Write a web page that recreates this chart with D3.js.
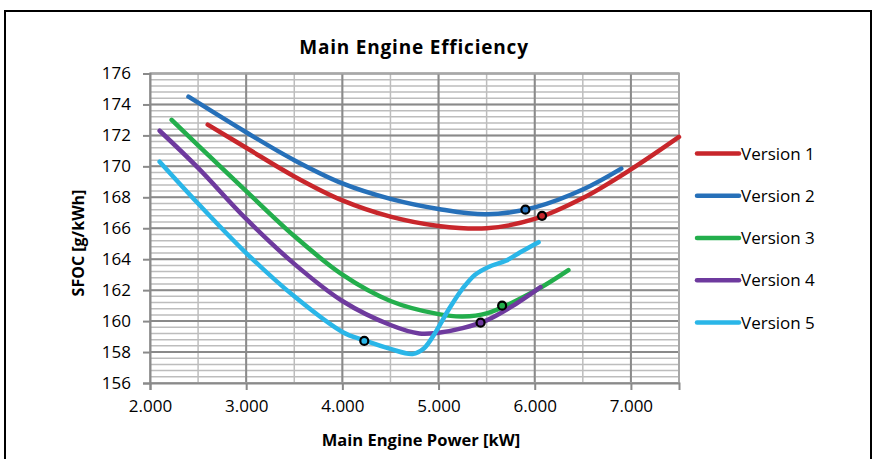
<!DOCTYPE html>
<html>
<head>
<meta charset="utf-8">
<script src="https://cdn.jsdelivr.net/npm/d3@7"></script>
<style>
  html, body { margin: 0; padding: 0; background: #fff; }
  svg { display: block; }
  text { font-family: "Open Sans", "Noto Sans", sans-serif; fill: #000; }
</style>
</head>
<body>
<svg id="chart" width="873" height="459"></svg>
<script>
// ---- data ----
const seriesNames = ["Version 1", "Version 2", "Version 3", "Version 4", "Version 5"];
const seriesColors = ["#C8262B", "#2670B9", "#23AE4C", "#6E3A9E", "#2AB6E8"];

const v1X = [2600, 3000, 3500, 4000, 4500, 5000, 5500, 6000, 6500, 7000, 7500];
const v1Y = [172.7, 171.2, 169.35, 167.8, 166.75, 166.15, 166.0, 166.6, 167.95, 169.8, 171.9];

const v2X = [2400, 3000, 3500, 4000, 4500, 5000, 5500, 6000, 6500, 6900];
const v2Y = [174.5, 172.2, 170.4, 168.9, 167.9, 167.25, 166.9, 167.35, 168.5, 169.85];

const v3X = [2225, 2500, 3000, 3500, 4000, 4500, 5000, 5250, 5500, 6000, 6350];
const v3Y = [173.0, 171.35, 168.4, 165.5, 163.0, 161.3, 160.45, 160.3, 160.5, 161.95, 163.3];

const v4X = [2100, 2500, 3000, 3500, 4000, 4500, 4800, 5000, 5250, 5500, 5750, 6060];
const v4Y = [172.3, 169.9, 166.6, 163.7, 161.3, 159.75, 159.2, 159.25, 159.55, 160.05, 160.9, 162.2];

const v5X = [2100, 2500, 3000, 3500, 4000, 4230, 4500, 4730, 4850, 4980, 5110, 5250, 5380, 5520, 5700, 5850, 6040];
const v5Y = [170.3, 167.6, 164.4, 161.6, 159.3, 158.75, 158.2, 157.88, 158.25, 159.4, 160.8, 162.1, 163.0, 163.5, 163.9, 164.45, 165.1];

const markerX = [6076, 5903, 5661, 5437, 4228];
const markerY = [166.8, 167.2, 161.0, 159.9, 158.72];

const xTicks = [2000, 3000, 4000, 5000, 6000, 7000];
const yTicks = [156, 158, 160, 162, 164, 166, 168, 170, 172, 174, 176];

const titleText = "Main Engine Efficiency";
const xTitle = "Main Engine Power [kW]";
const yTitle = "SFOC [g/kWh]";

// ---- layout ----
const svg = d3.select("#chart");
const plot = { left: 150, right: 679, top: 73.5, bottom: 383 };

const x = d3.scaleLinear().domain([2000, 7500]).range([plot.left, plot.right]);
const y = d3.scaleLinear().domain([156, 176]).range([plot.bottom, plot.top]);

// outer frame
svg.append("rect").attr("x", 5).attr("y", 11).attr("width", 866).attr("height", 470)
  .attr("fill", "#fff").attr("stroke", "#000").attr("stroke-width", 2);

// title
svg.append("text").attr("x", 414).attr("y", 54).attr("text-anchor", "middle")
  .attr("font-size", 19).attr("font-weight", "bold").attr("letter-spacing", 0.8)
  .text(titleText);

// grid
const g = svg.append("g");
const minorY = d3.range(156, 176.001, 0.4);
const minorX = d3.range(2000, 7500.001, 500);
g.selectAll(".my").data(minorY).join("line")
  .attr("x1", plot.left).attr("x2", plot.right)
  .attr("y1", d => y(d)).attr("y2", d => y(d))
  .attr("stroke", "#bdbdbd").attr("stroke-width", 1.5);
g.selectAll(".mx").data(minorX).join("line")
  .attr("y1", plot.top).attr("y2", plot.bottom)
  .attr("x1", d => x(d)).attr("x2", d => x(d))
  .attr("stroke", "#bdbdbd").attr("stroke-width", 1.5);
g.selectAll(".gy").data(yTicks).join("line")
  .attr("x1", plot.left).attr("x2", plot.right)
  .attr("y1", d => y(d)).attr("y2", d => y(d))
  .attr("stroke", "#8a8a8a").attr("stroke-width", 2);
g.selectAll(".gx").data(xTicks).join("line")
  .attr("y1", plot.top).attr("y2", plot.bottom)
  .attr("x1", d => x(d)).attr("x2", d => x(d))
  .attr("stroke", "#8a8a8a").attr("stroke-width", 2);
// plot border
g.append("rect").attr("x", plot.left).attr("y", plot.top)
  .attr("width", plot.right - plot.left).attr("height", plot.bottom - plot.top)
  .attr("fill", "none").attr("stroke", "#a8a8a8").attr("stroke-width", 2);

// axes
const fmt = d => d3.format(",")(d).replace(",", ".");
const xAxis = d3.axisBottom(x).tickValues(xTicks).tickFormat(fmt).tickSize(7).tickPadding(10);
const yAxis = d3.axisLeft(y).tickValues(yTicks).tickSize(7).tickPadding(12);

const xa = svg.append("g").attr("transform", `translate(0,${plot.bottom})`).call(xAxis);
const ya = svg.append("g").attr("transform", `translate(${plot.left},0)`).call(yAxis);
[xa, ya].forEach(a => {
  a.select(".domain").attr("stroke", "#8a8a8a").attr("stroke-width", 2);
  a.selectAll(".tick line").attr("stroke", "#8a8a8a").attr("stroke-width", 2);
  a.selectAll(".tick text").attr("font-size", 17).attr("fill", "#000")
    .attr("font-family", "'Open Sans', sans-serif");
});

// axis titles
svg.append("text").attr("x", 421).attr("y", 446).attr("text-anchor", "middle")
  .attr("font-size", 16.5).attr("font-weight", "bold").text(xTitle);
svg.append("text").attr("transform", "translate(84,243) rotate(-90)")
  .attr("text-anchor", "middle").attr("font-size", 16).attr("font-weight", "bold").text(yTitle);

// series
const seriesX = [v1X, v2X, v3X, v4X, v5X];
const seriesY = [v1Y, v2Y, v3Y, v4Y, v5Y];
const series = seriesNames.map((name, i) => ({
  name, color: seriesColors[i],
  pts: seriesX[i].map((xv, j) => [xv, seriesY[i][j]]),
  mx: markerX[i], my: markerY[i]
}));

const line = d3.line().x(d => x(d[0])).y(d => y(d[1])).curve(d3.curveCatmullRom.alpha(0.5));
const sg = svg.append("g");
sg.selectAll("path").data(series).join("path")
  .attr("d", d => line(d.pts))
  .attr("fill", "none").attr("stroke", d => d.color).attr("stroke-width", 4.5)
  .attr("stroke-linecap", "round").attr("stroke-linejoin", "round");

sg.selectAll("circle").data(series).join("circle")
  .attr("cx", d => x(d.mx)).attr("cy", d => y(d.my)).attr("r", 4)
  .attr("fill", d => d.color).attr("stroke", "#000").attr("stroke-width", 2.2);

// legend
const lg = svg.append("g");
const legendY = d3.scalePoint().domain(seriesNames).range([153.5, 322.5]);
const items = lg.selectAll("g").data(series).join("g")
  .attr("transform", d => `translate(0,${legendY(d.name)})`);
items.append("line").attr("x1", 697).attr("x2", 739).attr("y1", 0).attr("y2", 0)
  .attr("stroke", d => d.color).attr("stroke-width", 4.5).attr("stroke-linecap", "round");
items.append("text").attr("x", 741).attr("y", 6).attr("font-size", 17).text(d => d.name);
</script>
</body>
</html>
